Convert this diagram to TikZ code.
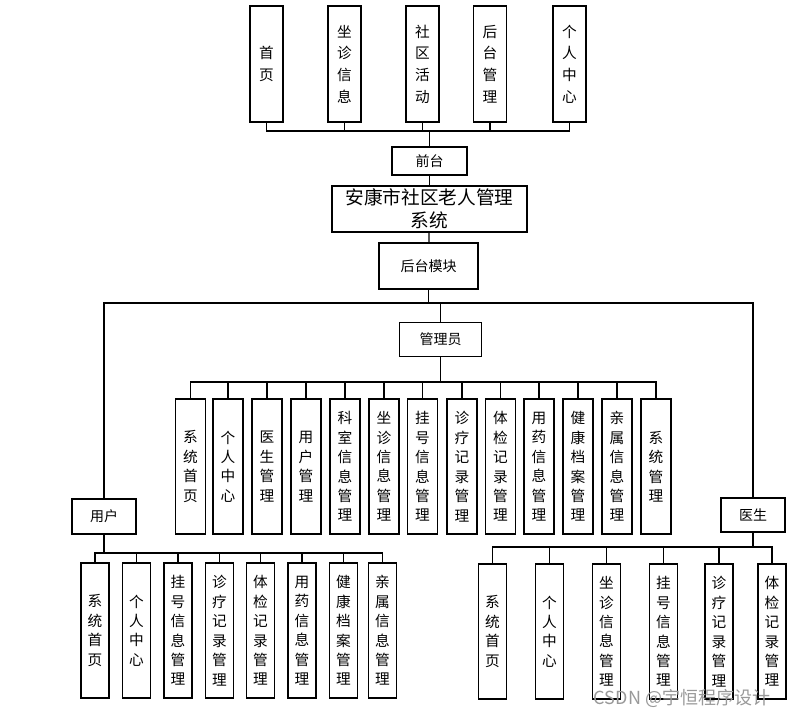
\documentclass[tikz,border=0pt]{standalone}
\usepackage{fontspec}
\setmainfont{Noto Sans CJK SC}

\tikzset{
  topbox/.style={draw, line width=0.9pt, inner sep=0pt, minimum width=24.75pt, minimum height=87pt, align=center, font=\fontsize{11}{16.3}\selectfont},
  admbox/.style={draw, line width=0.9pt, inner sep=0pt, minimum width=22.5pt, minimum height=101.25pt, align=center, font=\fontsize{11}{14.6}\selectfont},
  subbox/.style={draw, line width=0.9pt, inner sep=0pt, minimum width=21pt, minimum height=101.25pt, align=center, font=\fontsize{11}{14.6}\selectfont},
  lblbox/.style={draw, line width=0.9pt, inner sep=0pt, font=\fontsize{10.5}{12}\selectfont},
  link/.style={line width=0.9pt}
}

\begin{document}
\begin{tikzpicture}[x=0.75pt,y=-0.75pt]
\useasboundingbox (0,0) rectangle (794,718);

% front end
\node[topbox] (t1) at (266.5,64) {首\\页};
\node[topbox] (t2) at (344.5,64) {坐\\诊\\信\\息};
\node[topbox] (t3) at (422.5,64) {社\\区\\活\\动};
\node[topbox] (t4) at (490,64) {后\\台\\管\\理};
\node[topbox] (t5) at (569.5,64) {个\\人\\中\\心};

\node[lblbox, minimum width=56.25pt, minimum height=21pt] (front) at (429.5,161) {前台};
\node[draw, line width=0.9pt, inner sep=0pt, minimum width=146.25pt, minimum height=34.5pt, align=center, font=\fontsize{14}{17}\selectfont] (sys) at (429.5,209) {安康市社区老人管理\\系统};
\node[lblbox, minimum width=74.25pt, minimum height=34.5pt] (back) at (428.5,266) {后台模块};

\coordinate (frontbus) at (429.5,131);
\draw[link] (t1.south) |- (frontbus);
\draw[link] (t2.south) |- (frontbus);
\draw[link] (t3.south) |- (frontbus);
\draw[link] (t4.south) |- (frontbus);
\draw[link] (t5.south) |- (frontbus);
\draw[link] (frontbus) -- (front);
\draw[link] (front) -- (sys);
\draw[link] (sys) -- (back);

% back end roles
\node[lblbox, minimum width=61.5pt, minimum height=25.5pt] (admin) at (440.5,339.5) {管理员};
\node[lblbox, minimum width=48pt, minimum height=26.25pt] (user) at (104,516.5) {用户};
\node[lblbox, minimum width=48pt, minimum height=25.5pt] (doctor) at (753,515) {医生};

\coordinate (backbus) at (428.5,303);
\draw[link] (back) -- (backbus);
\draw[link] (user.north) |- (backbus);
\draw[link] (doctor.north) |- (backbus);
\draw[link] (admin.north) |- (backbus);

% admin
\node[admbox] (a1) at (190.5,466.5) {系\\统\\首\\页};
\node[admbox] (a2) at (228,466.5) {个\\人\\中\\心};
\node[admbox] (a3) at (267,466.5) {医\\生\\管\\理};
\node[admbox] (a4) at (306,466.5) {用\\户\\管\\理};
\node[admbox] (a5) at (345,466.5) {科\\室\\信\\息\\管\\理};
\node[admbox] (a6) at (384,466.5) {坐\\诊\\信\\息\\管\\理};
\node[admbox] (a7) at (422.5,466.5) {挂\\号\\信\\息\\管\\理};
\node[admbox] (a8) at (462,466.5) {诊\\疗\\记\\录\\管\\理};
\node[admbox] (a9) at (500.5,466.5) {体\\检\\记\\录\\管\\理};
\node[admbox] (a10) at (539,466.5) {用\\药\\信\\息\\管\\理};
\node[admbox] (a11) at (578,466.5) {健\\康\\档\\案\\管\\理};
\node[admbox] (a12) at (617,466.5) {亲\\属\\信\\息\\管\\理};
\node[admbox] (a13) at (656,466.5) {系\\统\\管\\理};

\coordinate (adminbus) at (440.5,382);
\draw[link] (admin) -- (adminbus);
\draw[link] (a1.north) |- (adminbus);
\draw[link] (a2.north) |- (adminbus);
\draw[link] (a3.north) |- (adminbus);
\draw[link] (a4.north) |- (adminbus);
\draw[link] (a5.north) |- (adminbus);
\draw[link] (a6.north) |- (adminbus);
\draw[link] (a7.north) |- (adminbus);
\draw[link] (a8.north) |- (adminbus);
\draw[link] (a9.north) |- (adminbus);
\draw[link] (a10.north) |- (adminbus);
\draw[link] (a11.north) |- (adminbus);
\draw[link] (a12.north) |- (adminbus);
\draw[link] (a13.north) |- (adminbus);

% user
\node[subbox] (u1) at (95,630.5) {系\\统\\首\\页};
\node[subbox] (u2) at (136.5,630.5) {个\\人\\中\\心};
\node[subbox] (u3) at (178,630.5) {挂\\号\\信\\息\\管\\理};
\node[subbox] (u4) at (219.5,630.5) {诊\\疗\\记\\录\\管\\理};
\node[subbox] (u5) at (260.5,630.5) {体\\检\\记\\录\\管\\理};
\node[subbox] (u6) at (302,630.5) {用\\药\\信\\息\\管\\理};
\node[subbox] (u7) at (343.5,630.5) {健\\康\\档\\案\\管\\理};
\node[subbox] (u8) at (382.5,630.5) {亲\\属\\信\\息\\管\\理};

\coordinate (userbus) at (104,553);
\draw[link] (user) -- (userbus);
\draw[link] (u1.north) |- (userbus);
\draw[link] (u2.north) |- (userbus);
\draw[link] (u3.north) |- (userbus);
\draw[link] (u4.north) |- (userbus);
\draw[link] (u5.north) |- (userbus);
\draw[link] (u6.north) |- (userbus);
\draw[link] (u7.north) |- (userbus);
\draw[link] (u8.north) |- (userbus);

% doctor
\node[subbox] (d1) at (492.5,631.5) {系\\统\\首\\页};
\node[subbox] (d2) at (549.5,631.5) {个\\人\\中\\心};
\node[subbox] (d3) at (606.5,631.5) {坐\\诊\\信\\息\\管\\理};
\node[subbox] (d4) at (663.5,631.5) {挂\\号\\信\\息\\管\\理};
\node[subbox] (d5) at (719,631.5) {诊\\疗\\记\\录\\管\\理};
\node[subbox] (d6) at (772,631.5) {体\\检\\记\\录\\管\\理};

\coordinate (doctorbus) at (753,547);
\draw[link] (doctor) -- (doctorbus);
\draw[link] (d1.north) |- (doctorbus);
\draw[link] (d2.north) |- (doctorbus);
\draw[link] (d3.north) |- (doctorbus);
\draw[link] (d4.north) |- (doctorbus);
\draw[link] (d5.north) |- (doctorbus);
\draw[link] (d6.north) |- (doctorbus);

\node[text=black!40, font=\fontsize{13.5}{14}\selectfont] (mark) at (682,698) {CSDN @宇恒程序设计};
\end{tikzpicture}
\end{document}
